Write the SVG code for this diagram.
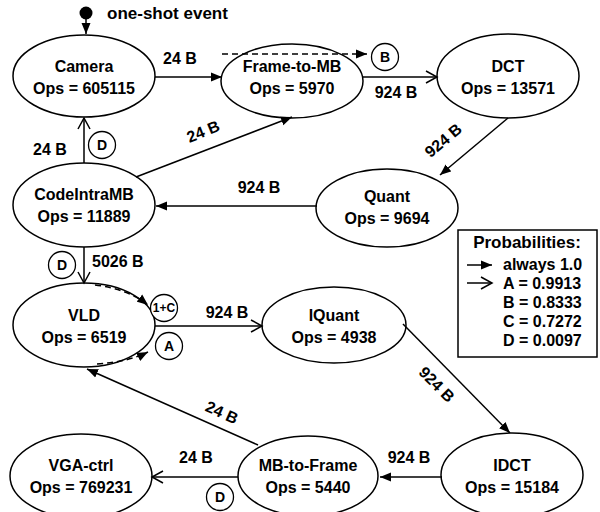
<svg xmlns="http://www.w3.org/2000/svg" width="600" height="512" viewBox="0 0 600 512">
<defs>
<style>
text{font-family:"Liberation Sans",Arial,sans-serif;font-weight:bold;font-size:16px;fill:#000}
.n ellipse{fill:#fff;stroke:#000;stroke-width:1.5}
.n text{text-anchor:middle}
.e line,.e path{stroke:#000;stroke-width:1.5;fill:none}
.d{stroke-dasharray:6 4}
.c circle{fill:#fff;stroke:#000;stroke-width:1.3}
.c text{text-anchor:middle;font-size:14px}
.lbl{text-anchor:middle}
</style>
<marker id="f" markerUnits="userSpaceOnUse" markerWidth="12" markerHeight="10" refX="11" refY="5" orient="auto">
<path d="M0,0.5 L11,5 L0,9.5 z" fill="#000"/>
</marker>
<marker id="o" markerUnits="userSpaceOnUse" markerWidth="14" markerHeight="14" refX="12" refY="7" orient="auto">
<path d="M1,1 L12,7 L1,13" fill="none" stroke="#000" stroke-width="1.5"/>
</marker>
</defs>

<g class="n" id="camera"><ellipse cx="84" cy="76" rx="71" ry="41"/><text x="84" y="72">Camera</text><text x="84" y="94">Ops = 605115</text></g>
<g class="n" id="frame-to-mb"><ellipse cx="292" cy="81" rx="71" ry="37"/><text x="292" y="72">Frame-to-MB</text><text x="292" y="94">Ops = 5970</text></g>
<g class="n" id="dct"><ellipse cx="508" cy="76" rx="71" ry="42"/><text x="508" y="72">DCT</text><text x="508" y="94">Ops = 13571</text></g>
<g class="n" id="quant"><ellipse cx="387" cy="208" rx="71" ry="39"/><text x="387" y="202">Quant</text><text x="387" y="224">Ops = 9694</text></g>
<g class="n" id="codeintramb"><ellipse cx="84" cy="205" rx="71" ry="42"/><text x="84" y="200">CodeIntraMB</text><text x="84" y="222">Ops = 11889</text></g>
<g class="n" id="vld"><ellipse cx="84" cy="325" rx="71" ry="42"/><text x="84" y="321">VLD</text><text x="84" y="343">Ops = 6519</text></g>
<g class="n" id="iquant"><ellipse cx="334" cy="325" rx="72" ry="38"/><text x="334" y="321">IQuant</text><text x="334" y="343">Ops = 4938</text></g>
<g class="n" id="idct"><ellipse cx="512" cy="475" rx="71" ry="42"/><text x="512" y="471">IDCT</text><text x="512" y="493">Ops = 15184</text></g>
<g class="n" id="mb-to-frame"><ellipse cx="308" cy="476" rx="70" ry="40"/><text x="308" y="471">MB-to-Frame</text><text x="308" y="493">Ops = 5440</text></g>
<g class="n" id="vga-ctrl"><ellipse cx="81" cy="476" rx="71" ry="42"/><text x="81" y="471">VGA-ctrl</text><text x="81" y="493">Ops = 769231</text></g>

<g class="e" id="connectors">
<circle cx="86" cy="13" r="6.5" fill="#000"/>
<line x1="86" y1="18" x2="86" y2="34" marker-end="url(#f)"/>
<line x1="155" y1="77" x2="222" y2="77" marker-end="url(#f)"/>
<line class="d" x1="222" y1="54" x2="367" y2="54" marker-end="url(#f)"/>
<line x1="363" y1="77" x2="437" y2="77" marker-end="url(#o)"/>
<line x1="508" y1="118" x2="440" y2="175" marker-end="url(#f)"/>
<line x1="317" y1="206" x2="156" y2="206" marker-end="url(#f)"/>
<line x1="136" y1="177" x2="292" y2="117" marker-end="url(#f)"/>
<line x1="84" y1="163" x2="84" y2="118" marker-end="url(#o)"/>
<line x1="84" y1="247" x2="84" y2="283" marker-end="url(#o)"/>
<path class="d" d="M95,285 Q128,289 148,305" marker-end="url(#f)"/>
<path class="d" d="M97,364 Q128,362 148,352" marker-end="url(#f)"/>
<line x1="155" y1="326" x2="262" y2="326" marker-end="url(#o)"/>
<line x1="403" y1="324" x2="510" y2="433" marker-end="url(#f)"/>
<line x1="442" y1="477" x2="380" y2="477" marker-end="url(#f)"/>
<line x1="258" y1="445" x2="87" y2="369" marker-end="url(#f)"/>
<line x1="238" y1="477" x2="152" y2="477" marker-end="url(#o)"/>
</g>

<g id="labels">
<text x="107" y="19" style="font-size:17px">one-shot event</text>
<text class="lbl" x="180" y="64">24 B</text>
<text class="lbl" x="396" y="98">924 B</text>
<text class="lbl" transform="translate(443,140) rotate(-40)" y="6">924 B</text>
<text class="lbl" x="259" y="193">924 B</text>
<text class="lbl" transform="translate(203,131) rotate(-22)" y="6">24 B</text>
<text class="lbl" x="50" y="155">24 B</text>
<text x="92" y="267">5026 B</text>
<text class="lbl" x="227" y="318">924 B</text>
<text class="lbl" transform="translate(437,384) rotate(45)" y="6">924 B</text>
<text class="lbl" x="409" y="463">924 B</text>
<text class="lbl" transform="translate(222,412) rotate(24)" y="6">24 B</text>
<text class="lbl" x="196" y="463">24 B</text>
</g>

<g class="c" id="conditions">
<g id="cB"><circle cx="385" cy="57" r="13.5"/><text x="385" y="62">B</text></g>
<g id="cD1"><circle cx="102" cy="145" r="13.5"/><text x="102" y="150">D</text></g>
<g id="cD2"><circle cx="62" cy="265" r="13.5"/><text x="62" y="270">D</text></g>
<g id="c1C"><circle cx="164" cy="308" r="13.5"/><text x="164" y="312" style="font-size:12px">1+C</text></g>
<g id="cA"><circle cx="169" cy="346" r="13.5"/><text x="169" y="351">A</text></g>
<g id="cD3"><circle cx="220" cy="497" r="13.5"/><text x="220" y="502">D</text></g>
</g>

<g id="legend">
<rect x="458" y="230" width="139" height="127" fill="#fff" stroke="#000" stroke-width="1.5"/>
<text x="527" y="248" text-anchor="middle" style="font-size:17px">Probabilities:</text>
<line x1="467" y1="265" x2="492" y2="265" stroke="#000" stroke-width="1.5" marker-end="url(#f)"/>
<text x="503" y="270">always 1.0</text>
<line x1="467" y1="283" x2="492" y2="283" stroke="#000" stroke-width="1.5" marker-end="url(#o)"/>
<text x="503" y="289">A = 0.9913</text>
<text x="503" y="308">B = 0.8333</text>
<text x="503" y="327">C = 0.7272</text>
<text x="503" y="346">D = 0.0097</text>
</g>
</svg>
